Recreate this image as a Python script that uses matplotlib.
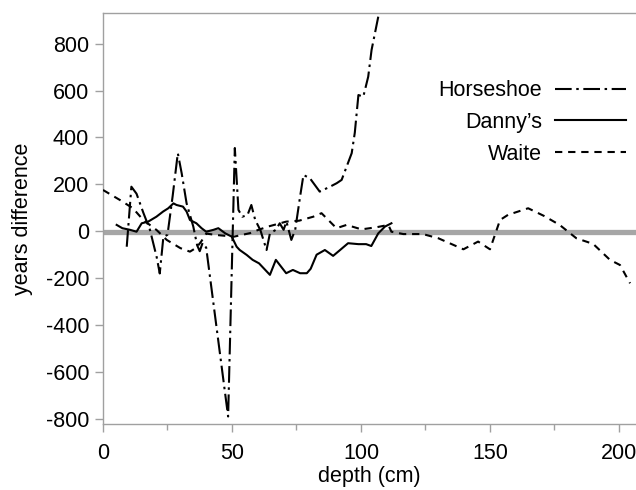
import matplotlib
matplotlib.use("Agg")
import matplotlib.pyplot as plt

plt.rcParams['font.family'] = ['Liberation Sans', 'DejaVu Sans']
plt.rcParams['axes.unicode_minus'] = False

# ---- data ----
horseshoe_x = [9.2, 11, 13, 15.6, 18.2, 20.8, 22, 23.4, 25, 27, 29, 30.5, 32.4, 35, 36.5, 37.5,
               38.6, 40, 48.5, 51.1, 52.5, 54, 56, 57.5, 59, 61, 63.4, 64.7, 67, 68.5, 70, 71.1,
               73, 74.5, 76.4, 77.7, 80.2, 84, 88, 90.6, 92.5, 96.4, 97.6, 99, 100.9, 102.8, 104.1, 106.7]
horseshoe_y = [-66, 190, 160, 80, 6, -110, -180, -25, -15, 150, 333, 247, 119, 20, -60, -85,
               -50, -70, -790, 355, 91, 62, 69, 112, 48, 5, -80, -9, 6, 34, 6, 41,
               -37, 6, 148, 240, 226, 169, 190, 205, 219, 333, 420, 581, 574, 659, 773, 915]

dannys_x = [5.3, 7.5, 10.5, 13, 15, 17.5, 20.7, 23.3, 25.3, 27.3, 28.5, 31, 32.4, 33.7, 36.2,
            38.2, 40, 42.8, 44.7, 47.4, 49.9, 51.8, 53, 55.7, 58, 60.5, 64.7, 67, 71, 73.6,
            76.4, 79, 80.5, 82.8, 86, 89.2, 91.9, 95, 99, 102, 104, 106.7, 109.3, 111.8]
dannys_y = [27, 13, 6, -2, 34, 41, 62, 84, 98, 119, 112, 105, 84, 48, 34,
            13, -2, 6, 13, -9, -23, -66, -80, -101, -122, -137, -186, -122, -179, -165,
            -179, -179, -160, -100, -80, -105, -80, -51, -55, -55, -63, -9, 20, 34]

waite_x = [0, 6.6, 11.6, 15.6, 20.8, 24.7, 30, 33.7, 36.2, 38, 40, 44, 50.8, 57, 60, 64, 71,
           76, 81.5, 84.7, 90.5, 94.4, 100.2, 106, 110.6, 111.8, 116.4, 124, 130, 139.7, 145.4,
           150, 153.9, 157, 164.8, 171, 177, 183.5, 190, 196.5, 200.4, 204.3]
waite_y = [176, 133, 98, 48, 5, -37, -72, -87, -70, -45, -10, -16, -23, -8, 5, 20, 41,
           45, 62, 77, 13, 27, 8, 17, 27, -2, -12, -12, -30, -77, -44,
           -77, 48, 70, 98, 65, 27, -30, -54, -122, -144, -222]

series_names = ["Horseshoe", "Danny\u2019s", "Waite"]

xticks = [0, 50, 100, 150, 200]
yticks = [-800, -600, -400, -200, 0, 200, 400, 600, 800]

fig = plt.figure(figsize=(6.36, 4.90), dpi=100)
ax = fig.add_axes([103/636, 1-424/490, 1-103/636, (424-12.7)/490])

ax.axhline(-2, color='#a6a6a6', lw=3.8, zorder=1)

lw = 1.5
ax.plot(horseshoe_x, horseshoe_y, color='black', lw=lw, dashes=[8, 2.2, 1.2, 2.2],
        label=series_names[0], zorder=3)
ax.plot(dannys_x, dannys_y, color='black', lw=lw, solid_joinstyle='round',
        label=series_names[1], zorder=3)
ax.plot(waite_x, waite_y, color='black', lw=lw, dashes=[3.5, 2.8],
        label=series_names[2], zorder=3)

ax.set_xlim(0, 206.6)
ax.set_ylim(-822, 932)
ax.set_xticks(xticks)
ax.set_xticks([25, 75, 125, 175], minor=True)
ax.set_yticks(yticks)

spine_col = '#a0a0a0'
for s in ['left', 'bottom', 'top']:
    ax.spines[s].set_color(spine_col)
    ax.spines[s].set_linewidth(1.0)
ax.spines['right'].set_visible(False)

fs = 15.5
ax.tick_params(axis='both', which='major', length=6, width=1.0, color=spine_col,
               labelsize=fs, pad=4, direction='out')
ax.tick_params(axis='x', which='minor', length=4, width=1.0, color=spine_col)
ax.tick_params(axis='x', which='major', pad=8)

ax.set_xlabel('depth (cm)', fontsize=fs, labelpad=1)
ax.set_ylabel('years difference', fontsize=fs, labelpad=9)

leg = ax.legend(loc='upper right', bbox_to_anchor=(641/636, 1-65/490), bbox_transform=fig.transFigure,
                frameon=False, markerfirst=False, fontsize=fs, handlelength=3.3,
                handletextpad=0.6, labelspacing=0.5, borderpad=0.2)
for t in leg.get_texts():
    t.set_ha('right')

fig.savefig('out.png', dpi=100)
